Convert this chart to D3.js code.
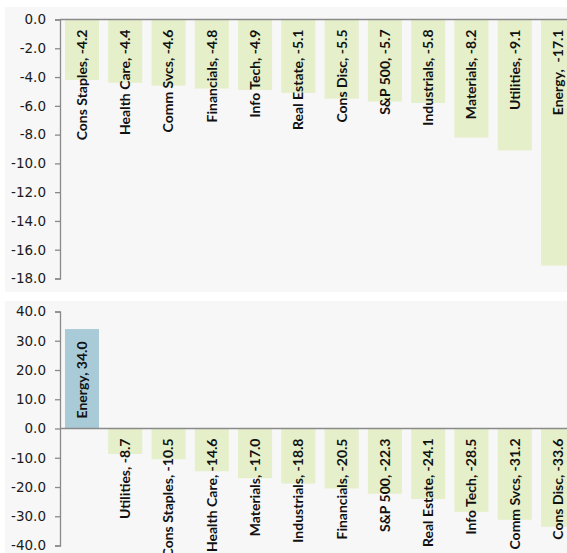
<!DOCTYPE html>
<html>
<head>
<meta charset="utf-8">
<script src="https://cdn.jsdelivr.net/npm/d3@7"></script>
<style>
  html, body { margin: 0; padding: 0; background: #ffffff; overflow: hidden; }
  svg { display: block; }
</style>
</head>
<body>
<svg id="chart" width="567" height="553"></svg>
<script>
// ---- data ----
const topCategories = ["Cons Staples","Health Care","Comm Svcs","Financials","Info Tech","Real Estate","Cons Disc","S&P 500","Industrials","Materials","Utilities","Energy"];
const topValues = [-4.2,-4.4,-4.6,-4.8,-4.9,-5.1,-5.5,-5.7,-5.8,-8.2,-9.1,-17.1];
const topSeparators = [", ",", ",", ",", ",", ",", ",", ",", ",", ",", ",", ",",  "];
const topTicks = [0,-2,-4,-6,-8,-10,-12,-14,-16,-18];

const bottomCategories = ["Energy","Utilities","Cons Staples","Health Care","Materials","Industrials","Financials","S&P 500","Real Estate","Info Tech","Comm Svcs","Cons Disc"];
const bottomValues = [34.0,-8.7,-10.5,-14.6,-17.0,-18.8,-20.5,-22.3,-24.1,-28.5,-31.2,-33.6];
const bottomTicks = [40,30,20,10,0,-10,-20,-30,-40];

// ---- styles ----
const GREEN = "#e5efc9", BLUE = "#a9cbd7", BG = "#f7f7f7", AXIS = "#8a8a8a";
const fmt = d => d.toFixed(1);

const svg = d3.select("#chart");

function panel(cfg) {
  const g = svg.append("g");
  g.append("rect").attr("x", 5).attr("y", cfg.bgTop).attr("width", 580).attr("height", cfg.bgBottom - cfg.bgTop).attr("fill", BG);

  const x = d3.scaleBand().domain(cfg.cats).range([60, 580]).paddingInner(0.214).paddingOuter(0.115);
  const y = d3.scaleLinear().domain(cfg.domain).range(cfg.range);

  // bars
  g.selectAll("rect.bar").data(cfg.values).join("rect")
    .attr("class", "bar")
    .attr("x", (d, i) => x(cfg.cats[i]))
    .attr("width", x.bandwidth())
    .attr("y", d => Math.min(y(d), y(0)))
    .attr("height", d => Math.abs(y(d) - y(0)))
    .attr("fill", d => d >= 0 ? BLUE : GREEN);

  // zero line
  g.append("line").attr("x1", 60).attr("x2", 580).attr("y1", y(0)).attr("y2", y(0))
    .attr("stroke", AXIS).attr("stroke-width", 1.3);

  // y axis
  const ax = g.append("g").attr("transform", "translate(60,0)")
    .call(d3.axisLeft(y).tickValues(cfg.ticks).tickFormat(fmt).tickSize(5).tickPadding(9));
  ax.select(".domain").attr("stroke", AXIS).attr("stroke-width", 1.3);
  ax.selectAll(".tick line").attr("stroke", AXIS).attr("stroke-width", 1.3);
  ax.selectAll(".tick text").attr("font-family", "'DejaVu Sans', sans-serif").attr("font-size", 13.5).attr("fill", "#1a1a1a");

  // labels
  g.selectAll("text.lab").data(cfg.values).join("text")
    .attr("class", "lab")
    .attr("transform", (d, i) => {
      const cx = x(cfg.cats[i]) + x.bandwidth() / 2;
      const yy = d >= 0 ? y(0) - 10 : y(0) + 10;
      return `translate(${cx},${yy}) rotate(-90)`;
    })
    .attr("text-anchor", d => d >= 0 ? "start" : "end")
    .attr("dy", "0.35em")
    .attr("font-family", "Lato, sans-serif")
    .attr("font-weight", "bold")
    .attr("font-size", 14)
    .attr("fill", "#111")
    .style("white-space", "pre")
    .text((d, i) => cfg.cats[i] + (cfg.seps ? cfg.seps[i] : ", ") + fmt(d));
}

panel({
  cats: topCategories, values: topValues, seps: topSeparators, ticks: topTicks,
  domain: [0, -18], range: [19.5, 278.5], bgTop: 7, bgBottom: 292
});
panel({
  cats: bottomCategories, values: bottomValues, ticks: bottomTicks,
  domain: [40, -40], range: [311.5, 545.5], bgTop: 301, bgBottom: 560
});
</script>
</body>
</html>
